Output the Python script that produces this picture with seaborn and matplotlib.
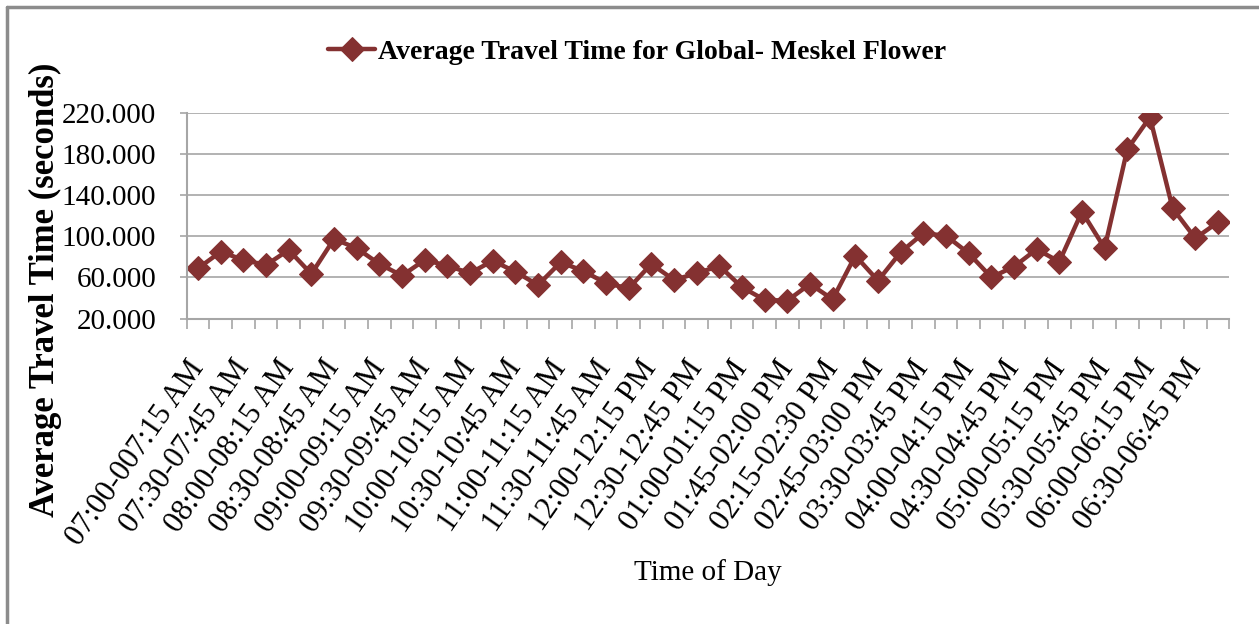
import matplotlib
matplotlib.use("Agg")
import matplotlib.pyplot as plt
from matplotlib.lines import Line2D
import numpy as np
import pandas as pd
import seaborn as sns

# 15-minute slots (two slots are missing in the source: 01:30 and 03:15)
slots = [
    "07:00-007:15 AM", "07:15-07:30 AM", "07:30-07:45 AM", "07:45-08:00 AM",
    "08:00-08:15 AM", "08:15-08:30 AM", "08:30-08:45 AM", "08:45-09:00 AM",
    "09:00-09:15 AM", "09:15-09:30 AM", "09:30-09:45 AM", "09:45-10:00 AM",
    "10:00-10:15 AM", "10:15-10:30 AM", "10:30-10:45 AM", "10:45-11:00 AM",
    "11:00-11:15 AM", "11:15-11:30 AM", "11:30-11:45 AM", "11:45-12:00 PM",
    "12:00-12:15 PM", "12:15-12:30 PM", "12:30-12:45 PM", "12:45-01:00 PM",
    "01:00-01:15 PM", "01:15-01:30 PM", "01:45-02:00 PM", "02:00-02:15 PM",
    "02:15-02:30 PM", "02:30-02:45 PM", "02:45-03:00 PM", "03:00-03:15 PM",
    "03:30-03:45 PM", "03:45-04:00 PM", "04:00-04:15 PM", "04:15-04:30 PM",
    "04:30-04:45 PM", "04:45-05:00 PM", "05:00-05:15 PM", "05:15-05:30 PM",
    "05:30-05:45 PM", "05:45-06:00 PM", "06:00-06:15 PM", "06:15-06:30 PM",
    "06:30-06:45 PM", "06:45-07:00 PM",
]

travel_time = [
    68.9, 85.0, 77.0, 72.1, 86.7, 63.4, 97.4, 88.4, 73.1, 61.8,
    77.0, 71.5, 64.1, 76.3, 65.6, 52.7, 74.8, 66.3, 54.4, 49.5,
    73.1, 57.6, 64.1, 71.2, 50.5, 38.2, 37.5, 53.7, 38.8, 81.2,
    56.9, 84.5, 102.9, 100.6, 83.5, 60.2, 70.5, 87.4, 75.3, 123.9,
    88.4, 184.5, 215.6, 127.2, 98.1, 113.6,
]

y_ticks = [20, 60, 100, 140, 180, 220]

df = pd.DataFrame({"slot": slots, "time": travel_time})
df["pos"] = np.arange(len(df))

sns.set_theme(style="white")
plt.rcParams["font.family"] = ["Liberation Serif", "DejaVu Serif"]
plt.rcParams["text.color"] = "black"
plt.rcParams["axes.labelcolor"] = "black"

line_color = "#843131"
grid_color = "#a6a6a6"

fig = plt.figure(figsize=(12.59, 6.24), dpi=100)
ax = fig.add_axes([0.1483, 0.4893, 0.8281, 0.3301])

sns.lineplot(
    data=df, x="pos", y="time", ax=ax, color=line_color, linewidth=3.2,
    marker="D", markersize=12, markeredgecolor=line_color,
    label="Average Travel Time for Global- Meskel Flower",
)

# axes limits and grid
ax.set_xlim(-0.5, len(df) - 0.5)
ax.set_ylim(20, 220)
ax.set_yticks(y_ticks, ["{:.3f}".format(v) for v in y_ticks])
ax.yaxis.grid(True, color=grid_color, linewidth=1.2)
ax.set_axisbelow(True)

# category labels on every other slot, tick marks between slots
ax.set_xticks(df["pos"][::2], df["slot"][::2], rotation=55, ha="right",
              va="center", rotation_mode="anchor")
ax.set_xticks(np.arange(-0.5, len(df), 1), minor=True)
ax.tick_params(axis="x", which="major", length=0, pad=32, labelsize=22,
               labelcolor="black")
ax.tick_params(axis="x", which="minor", length=7, width=1.2, color=grid_color,
               direction="out", bottom=True)
ax.tick_params(axis="y", length=5, width=1.2, color=grid_color, pad=17,
               labelsize=21, left=True, labelcolor="black")

for side in ["top", "right"]:
    ax.spines[side].set_visible(False)
for side in ["left", "bottom"]:
    ax.spines[side].set_color(grid_color)
    ax.spines[side].set_linewidth(1.5)

ax.set_xlabel("Time of Day", fontsize=21)
ax.xaxis.set_label_coords(0.5, -1.234)
ax.xaxis.label.set_va("center")
ax.set_ylabel("Average Travel Time (seconds)", fontsize=25, fontweight="bold")
ax.yaxis.set_label_coords(-0.135, 0.139)
ax.yaxis.label.set_va("center")

ax.legend(loc="center", bbox_to_anchor=(637 / 1259, 1 - 52 / 624),
          bbox_transform=fig.transFigure, frameon=False, handlelength=1.7,
          handletextpad=0.1, labelcolor="black",
          prop={"size": 20, "weight": "bold"})

# chart frame (left and top edges only)
fig.add_artist(Line2D([7 / 1259, 7 / 1259], [0, 1 - 7 / 624],
                      transform=fig.transFigure, color="#8c8c8c", linewidth=2.5))
fig.add_artist(Line2D([7 / 1259, 1], [1 - 7 / 624, 1 - 7 / 624],
                      transform=fig.transFigure, color="#8c8c8c", linewidth=2.5))

fig.savefig("out.png", dpi=100, facecolor="white")
